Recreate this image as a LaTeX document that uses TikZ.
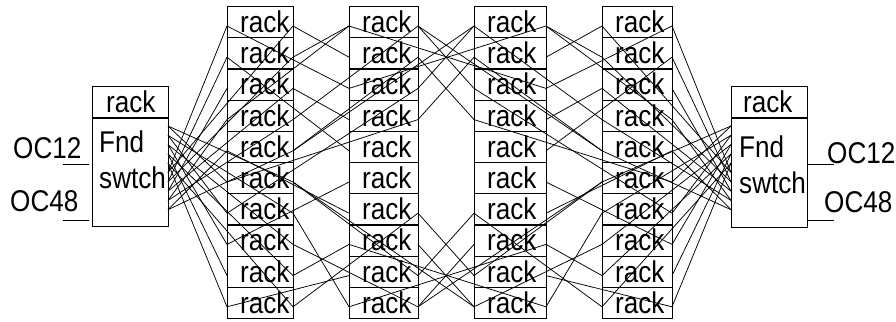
\documentclass[tikz,border=0pt]{standalone}
\usepackage{fontspec}
\setmainfont{Liberation Sans}[FakeStretch=0.87]
\begin{document}
\begin{tikzpicture}[x=1pt,y=-1pt,
  box/.style={draw, line width=1.1pt, inner sep=0pt, anchor=north west},
  wire/.style={line width=0.75pt},
  lbl/.style={inner sep=0pt, anchor=base west, font=\fontsize{30}{30}\selectfont}]
\useasboundingbox (0,0) rectangle (896,321);
% rack columns; ports p<col>-<side>-<row>, side 0 = left edge, 1 = right edge
\foreach \c/\l/\r in {1/227/293, 2/349/418, 3/474/546, 4/602/672} {
  \foreach \i in {1,...,10} {
    \pgfmathsetmacro\t{6+31.2*(\i-1)}
    \pgfmathsetmacro\w{\r-\l}
    \node[box, minimum width=\w pt, minimum height=31.2pt] (c\c r\i) at (\l,\t) {};
    \node[lbl] (t\c r\i) at (\l+13,\t+26.5) {rack};
    \coordinate (p\c-0-\i) at (\l,\t+20);
    \coordinate (p\c-1-\i) at (\r,\t+20);
  }
}
% left switch
\node[box, minimum width=76pt, minimum height=31pt] (lrack) at (92,86) {};
\node[lbl] (lrackt) at (106,112) {rack};
\node[box, minimum width=76pt, minimum height=108pt] (lsw) at (92,118) {};
\node[lbl] (lfnd) at (99,152) {Fnd};
\node[lbl] (lswt) at (99,188) {swtch};
\node[lbl] (loc12) at (13,158) {OC12};
\node[lbl] (loc48) at (10,211) {OC48};
\coordinate (la1) at (63,164); \coordinate (lb1) at (89,164);
\coordinate (la2) at (63,220); \coordinate (lb2) at (89,220);
\draw[wire] (la1) -- (lb1); \draw[wire] (la2) -- (lb2);
% right switch
\node[box, minimum width=76pt, minimum height=31pt] (rrack) at (731,86) {};
\node[lbl] (rrackt) at (743,112) {rack};
\node[box, minimum width=76pt, minimum height=109pt] (rsw) at (731,118) {};
\node[lbl] (rfnd) at (739,157) {Fnd};
\node[lbl] (rswt) at (739,193) {swtch};
\node[lbl] (roc12) at (827,163) {OC12};
\node[lbl] (roc48) at (824,212) {OC48};
\coordinate (ra1) at (808,164); \coordinate (rb1) at (834,164);
\coordinate (ra2) at (808,220); \coordinate (rb2) at (834,220);
\draw[wire] (ra1) -- (rb1); \draw[wire] (ra2) -- (rb2);
% switch fan-out: rack i served from switch point k
\foreach \i/\k in {6/0,7/1,8/2,9/3,10/4,1/5,2/6,3/7,4/8,5/9} {
  \coordinate (sP\i) at (168,{126+\k*9.3});
  \coordinate (eP\i) at (731,{126+\k*9.3});
  \draw[wire] (sP\i) -- (p1-0-\i);
  \draw[wire] (sP\i) -- (p1-1-\i);
  \draw[wire] (eP\i) -- (p4-1-\i);
  \draw[wire] (eP\i) -- (p4-0-\i);
}
% rack-to-rack wires, each drawn with its left-right mirror image
\foreach \ca/\sa/\ia/\cb/\sb/\ib in {
  1/0/1/2/0/3, 1/1/1/2/0/2, 2/0/1/1/0/4, 2/1/1/1/1/4, 2/1/2/1/1/5,
  2/1/3/1/0/7, 2/1/4/1/0/6, 1/0/10/2/0/9, 1/1/10/2/1/7, 1/1/7/2/0/10,
  1/0/5/2/0/7, 1/0/2/2/0/5, 1/1/3/2/0/4, 1/1/2/2/0/1, 2/1/9/1/1/6,
  2/1/10/1/1/8, 1/0/8/2/0/6, 1/1/9/2/0/8,
  2/1/1/4/0/5, 2/1/10/4/0/6, 2/0/3/3/1/1, 2/0/8/3/1/10,
  2/1/3/3/0/1, 2/1/4/3/0/2, 2/1/8/3/0/10, 2/1/7/3/0/9} {
  \pgfmathtruncatemacro\mca{5-\ca}
  \pgfmathtruncatemacro\msa{1-\sa}
  \pgfmathtruncatemacro\mcb{5-\cb}
  \pgfmathtruncatemacro\msb{1-\sb}
  \draw[wire] (p\ca-\sa-\ia) -- (p\cb-\sb-\ib);
  \draw[wire] (p\mca-\msa-\ia) -- (p\mcb-\msb-\ib);
}
\end{tikzpicture}
\end{document}
